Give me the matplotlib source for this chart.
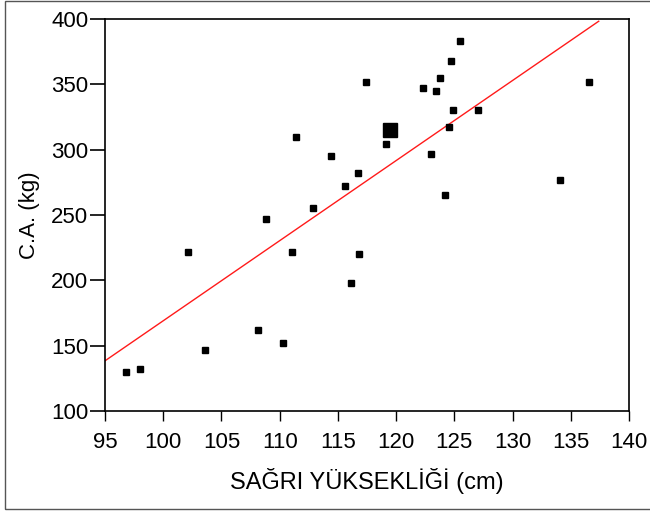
import matplotlib

matplotlib.use("Agg")
import matplotlib.pyplot as plt
from matplotlib.patches import Rectangle

plt.rcParams.update({
    "font.family": ["Liberation Sans", "DejaVu Sans"],
    "font.size": 16,
})

# ── Data ──────────────────────────────────────────────────────────────────────
sagri_cm = [96.8, 98.0, 103.6, 108.1, 110.3, 102.1, 108.8, 111.1, 112.9, 115.6,
            116.7, 114.4, 116.8, 116.1, 123.0, 124.2, 111.4, 117.4, 119.1, 122.3,
            123.4, 123.8, 124.7, 125.5, 124.9, 124.5, 127.0, 136.6, 134.1]
ca_kg = [130, 132, 147, 162, 152, 222, 247, 222, 255, 272,
         282, 295, 220, 198, 297, 265, 310, 352, 304, 347,
         345, 355, 368, 383, 330, 317, 330, 352, 277]

mean_x = [119.5]   # the large square
mean_y = [315]

fit_x = [95.0, 137.4]
fit_y = [138.4, 398.3]

xticks = [95, 100, 105, 110, 115, 120, 125, 130, 135, 140]
yticks = [100, 150, 200, 250, 300, 350, 400]

# ── Plot ──────────────────────────────────────────────────────────────────────
fig = plt.figure(figsize=(6.5, 5.11), dpi=100)
ax = fig.add_axes([105 / 650, 1 - 411 / 511, 524 / 650, 392 / 511])

ax.plot(fit_x, fit_y, color="#ff1a1a", linewidth=1.0, zorder=2)
ax.plot(sagri_cm, ca_kg, "s", color="black", markersize=5, zorder=3)
ax.plot(mean_x, mean_y, "s", color="black", markersize=10, zorder=3)

ax.set_xlim(95, 140)
ax.set_ylim(100, 400)
ax.set_xticks(xticks)
ax.set_yticks(yticks)
ax.tick_params(axis="y", direction="out", length=11, width=1.2, pad=1)
ax.tick_params(axis="x", direction="out", length=7, width=1.0, pad=8)
for sp in ax.spines.values():
    sp.set_linewidth(1.2)

ax.set_xlabel("SAĞRI YÜKSEKLİĞİ (cm)", fontsize=17, labelpad=11)
ax.set_ylabel("C.A. (kg)", labelpad=8)

# outer frame around the whole picture
fig.patches.append(Rectangle((5 / 650, 2 / 511), 1.0, 508 / 511,
                             transform=fig.transFigure, fill=False,
                             edgecolor="#555555", linewidth=1.0))

fig.savefig("out.png", dpi=100)
